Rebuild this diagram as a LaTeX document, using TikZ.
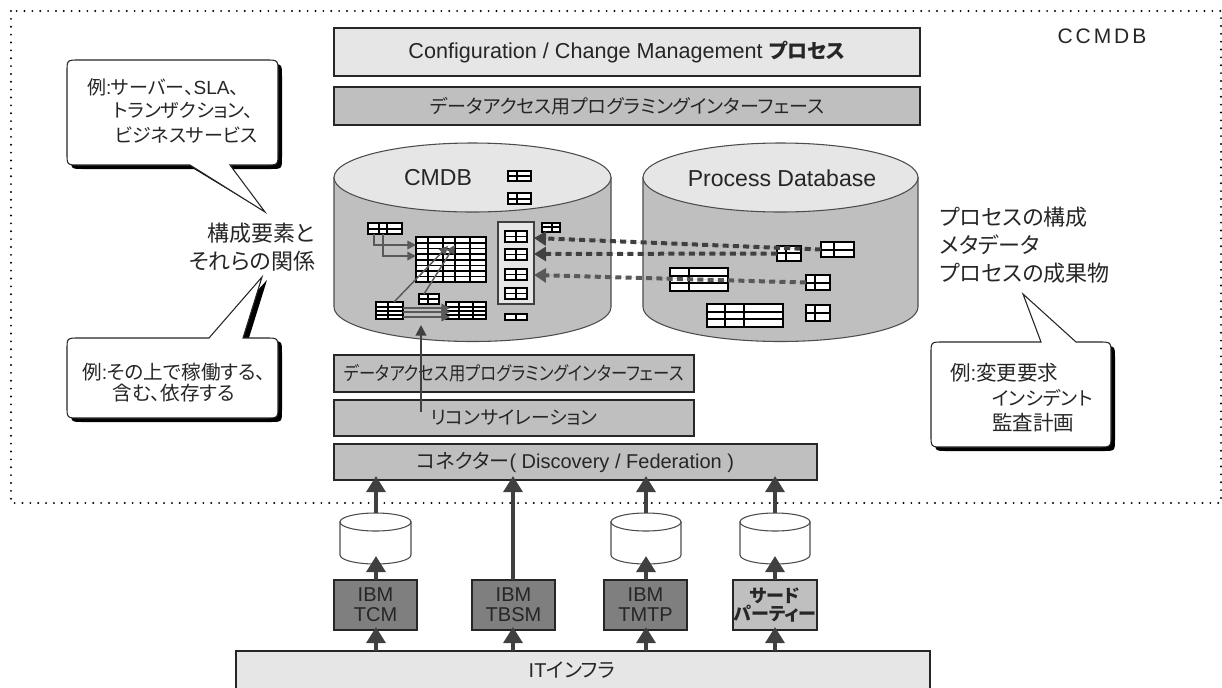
\documentclass[tikz,border=0pt]{standalone}
\usepackage{fontspec}
\usepackage{graphicx}
\usetikzlibrary{arrows.meta,calc}
\setmainfont{Liberation Sans}
\newfontfamily\cjk[RawFeature=+palt]{Noto Sans CJK JP}
\newfontfamily\lsfont[LetterSpace=14]{Liberation Sans}
\newcommand{\J}[1]{{\cjk #1}}
\newcommand{\fsd}[1]{\fontsize{#1}{#1}\selectfont}
\definecolor{txt}{HTML}{262626}
\definecolor{lg}{HTML}{E6E6E6}
\definecolor{mg}{HTML}{BFBFBF}
\definecolor{dg}{HTML}{7F7F7F}
\definecolor{ar}{HTML}{404040}
\definecolor{ag}{HTML}{595959}
\tikzset{
  boxs/.style={draw=black!85,line width=.8pt,outer sep=0pt,inner sep=0pt,text=txt,align=center},
  lbl/.style={text=txt,inner sep=0pt,outer sep=0pt},
  bigarr/.style={draw=ar,line width=3pt,-{Triangle[length=12pt,width=14pt,fill=ar]}},
  dasharr/.style={line width=3pt,dash pattern=on 4.5pt off 3.2pt,-{Triangle[length=9pt,width=10.5pt]}},
  thinarr/.style={draw=ag,line width=1.1pt,-{Triangle[length=6.5pt,width=6.5pt,fill=ag]}},
  tabs/.style={draw=black,line width=.9pt,fill=white,outer sep=0pt,inner sep=0pt},
  cyls/.style={draw=black!70,line width=.8pt},
  dots/.style={line width=1.6pt,line cap=round,dash pattern=on 0pt off 5.9pt,draw=black},
  call/.style={draw=black!85,line width=.8pt,fill=white},
  f18/.style={font=\fsd{13.5pt}},
  f20/.style={font=\fsd{15pt}},
  f19/.style={font=\fsd{14.25pt}},
  f22/.style={font=\fsd{16.5pt}},
  f23/.style={font=\fsd{17.3pt}},
}
\newcommand{\bx}[7]{%
  \pgfmathsetlengthmacro{\bw}{(#4-#2)*0.75pt}\pgfmathsetlengthmacro{\bh}{(#5-#3)*0.75pt}%
  \node[boxs,#6,anchor=north west,minimum width=\bw,minimum height=\bh] (#1) at (#2,#3) {#7};}
\newcommand{\tb}[7]{%
  \pgfmathsetlengthmacro{\bw}{(#4-#2)*0.75pt}\pgfmathsetlengthmacro{\bh}{(#5-#3)*0.75pt}%
  \node[tabs,anchor=north west,minimum width=\bw,minimum height=\bh] (#1) at (#2,#3) {};
  \foreach \c in {#6} {\draw[line width=.9pt] (\c,#3) -- (\c,#5);}
  \foreach \r in {#7} {\draw[line width=.9pt] (#2,\r) -- (#4,\r);}}
\newcommand{\cyl}[8]{%
  \pgfmathsetmacro{\cx}{(#2+#3)/2}\pgfmathsetmacro{\rx}{(#3-#2)/2}\pgfmathsetmacro{\ry}{(#5-#4)/2}%
  \pgfmathsetmacro{\cy}{(#4+#5)/2}\pgfmathsetmacro{\by}{#6+\ry}%
  \pgfmathsetmacro{\ka}{0.5523*\rx}\pgfmathsetmacro{\kb}{0.5523*\ry}%
  \pgfmathsetmacro{\lo}{#6+\kb}%
  \pgfmathsetmacro{\xa}{\cx-\ka}\pgfmathsetmacro{\xb}{\cx+\ka}%
  \pgfmathsetlengthmacro{\bw}{(#3-#2)*0.75pt}\pgfmathsetlengthmacro{\bh}{(\by-#4)*0.75pt}%
  \path[cyls,fill=#7] (#2,\cy) -- (#2,#6) .. controls (#2,\lo) and (\xa,\by) .. (\cx,\by)
     .. controls (\xb,\by) and (#3,\lo) .. (#3,#6) -- (#3,\cy) -- cycle;
  \path[cyls,fill=#8] (\cx,\cy) ellipse[x radius=\rx,y radius=\ry];
  \node[anchor=north west,minimum width=\bw,minimum height=\bh,inner sep=0pt,outer sep=0pt] (#1) at (#2,#4) {};}
\newcommand{\calltop}[9]{%
  \path[#9] ({#1+12},#2) -- (#5,#2) -- (#6,#7) -- (#8,#2) -- ({#3-12},#2) .. controls (#3,#2) .. (#3,{#2+12})
   -- (#3,{#4-12}) .. controls (#3,#4) .. ({#3-12},#4) -- ({#1+12},#4) .. controls (#1,#4) .. (#1,{#4-12})
   -- (#1,{#2+12}) .. controls (#1,#2) .. ({#1+12},#2) -- cycle;}
\newcommand{\callbot}[9]{%
  \path[#9] ({#1+12},#2) -- ({#3-12},#2) .. controls (#3,#2) .. (#3,{#2+12})
   -- (#3,{#4-12}) .. controls (#3,#4) .. ({#3-12},#4) -- (#8,#4) -- (#6,#7) -- (#5,#4) -- ({#1+12},#4) .. controls (#1,#4) .. (#1,{#4-12})
   -- (#1,{#2+12}) .. controls (#1,#2) .. ({#1+12},#2) -- cycle;}
\newcommand{\apitext}[1]{\scalebox{#1}[1]{\J{データアクセス用プログラミングインターフェース}}}
\begin{document}
\begin{tikzpicture}[x=0.75pt,y=-0.75pt]
\useasboundingbox (0,0) rectangle (1222,687);
\clip (0,0) rectangle (1222,687);
\fill[white] (0,0) rectangle (1222,687);
\draw[dots] (11,11) rectangle (1221,503);
\node[lbl,font=\fsd{15.75pt}\lsfont] (ccmdb) at (1102,36) {CCMDB};
\bx{proc}{334}{28}{920}{76}{fill=lg,font=\fsd{16.2pt}}{Configuration / Change Management \J{\fsd{15pt}\bfseries プロセス}}
\bx{api}{334}{87}{920}{125}{fill=mg,f19}{\apitext{1}}
\cyl{cmdb}{334}{611}{143}{212}{307}{mg}{lg}
\cyl{pdb}{643}{918}{143}{212}{307}{mg}{lg}
\node[lbl,f23] (cmdbt) at (438,178) {CMDB};
\node[lbl,f23] (pdbt) at (782,178) {Process Database};
\tb{t1}{508}{171}{531}{181}{517}{176}
\tb{t2}{508}{193}{531}{204}{517}{199}
\tb{tl}{368}{223}{402}{234}{379,387}{229}
\tb{tm}{416}{237}{486}{282}{428,443,455,470}{243,248.5,254,260,265.5,271,276.5}
\tb{bl}{376}{302}{403}{319}{388}{307,311,315}
\tb{sm}{419}{294}{439}{304}{428}{299}
\tb{br}{446}{302}{486}{319}{459,473}{307,311,315}
\bx{panel}{498}{222}{534}{304}{fill=lg,draw=black!75}{}
\tb{p1}{505}{231}{527}{242}{516}{236.5}
\tb{p2}{505}{249}{527}{260}{516}{254.5}
\tb{p3}{505}{269}{527}{280}{516}{274.5}
\tb{p4}{505}{288}{527}{299}{516}{293.5}
\tb{ps}{542}{223}{560}{232}{552}{227}
\tb{pb}{505}{314}{527}{320}{516}{}
\draw[line width=1.6pt] (pb.south west) -- (pb.south east);
\coordinate (e1) at (374,234); \coordinate (e1b) at (416,245);
\coordinate (e2) at (383,234); \coordinate (e2b) at (416,256);
\draw[thinarr] (e1) |- (e1b);
\draw[thinarr] (e2) |- (e2b);
\coordinate (d1) at (394,302); \coordinate (d1b) at (448,246);
\coordinate (d2) at (424,294); \coordinate (d2b) at (455,245);
\draw[thinarr] (d1) -- (d1b);
\draw[thinarr] (d2) -- (d2b);
\coordinate (h1) at (403,308); \coordinate (h1b) at (450,308);
\coordinate (h2) at (403,312); \coordinate (h2b) at (450,312);
\coordinate (h3) at (403,317); \coordinate (h3b) at (450,317);
\draw[thinarr] (h1) -- (h1b); \draw[thinarr] (h2) -- (h2b); \draw[thinarr] (h3) -- (h3b);
\tb{ta}{821}{242}{854}{257}{834}{250}
\tb{tb}{777}{246}{801}{261}{786}{253}
\tb{tc}{670}{268}{728}{291}{689}{276,283}
\tb{td}{806}{275}{830}{290}{815}{283}
\tb{te}{707}{304}{783}{327}{725,744}{312,319}
\tb{tf}{806}{305}{830}{321}{815}{313}
\coordinate (q1) at (534,238); \coordinate (q2) at (534,254); \coordinate (q3) at (534,275);
\draw[dasharr,draw=ar,fill=ar] (ta.west) -- (q1);
\draw[dasharr,draw=ar,fill=ar] (tb.west) -- (q2);
\draw[dasharr,draw=ag,fill=ag] (td.west) -- (q3);
\node[lbl,f22,anchor=east] (l1) at (315,233) {\J{構成要素と}};
\node[lbl,f22,anchor=east] (l2) at (315,261) {\J{それらの関係}};
\node[lbl,f22,anchor=west] (r1) at (940,217) {\J{プロセスの構成}};
\node[lbl,f22,anchor=west] (r2) at (940,245) {\J{メタデータ}};
\node[lbl,f22,anchor=west] (r3) at (940,273) {\J{プロセスの成果物}};
\callbot{71}{64}{282}{169}{194}{265}{212}{232}{fill=black}
\callbot{67}{60}{278}{165}{190}{265}{212}{230}{call}
\node[lbl,f19,anchor=west] (c11) at (87,87) {\J{例}:\J{サーバー、}SLA\J{、}};
\node[lbl,f19,anchor=west] (c12) at (113,110) {\J{トランザクション、}};
\node[lbl,f19,anchor=west] (c13) at (115,135) {\J{ビジネスサービス}};
\calltop{71}{341}{282}{422}{212}{267}{280}{248}{fill=black}
\calltop{67}{338}{278}{418}{209}{262}{277}{243}{call}
\node[lbl,font=\fsd{14.7pt}] (c21) at (174,372) {\J{例}:\J{その上で稼働する、}};
\node[lbl,font=\fsd{14.7pt}] (c22) at (174,393) {\J{含む、依存する}};
\calltop{935}{346}{1115}{451}{1045}{1023}{294}{1080}{fill=black}
\calltop{931}{342}{1111}{447}{1041}{1023}{294}{1076}{call}
\node[lbl,font=\fsd{15.4pt},anchor=west] (c31) at (950,373) {\J{例}:\J{変更要求}};
\node[lbl,f19,anchor=west] (c32) at (992,398) {\J{インシデント}};
\node[lbl,font=\fsd{15.4pt},anchor=west] (c33) at (992,423) {\J{監査計画}};
\bx{api2}{334}{355}{694}{392}{fill=mg,f19}{\apitext{.86}}
\bx{rec}{334}{400}{694}{436}{fill=mg,font=\fsd{14.1pt}}{\J{リコンサイレーション}}
\bx{conn}{334}{444}{817}{480}{fill=mg,f20}{\J{コネクター}( Discovery / Federation )}
\coordinate (up1) at (421,412); \coordinate (up2) at (421,325);
\draw[draw=ar,line width=1.4pt,-{Triangle[length=8pt,width=8pt,fill=ar]}] (up1) -- (up2);
\cyl{c1}{340}{411}{513}{531}{555}{white}{white}
\cyl{c3}{611}{681}{513}{531}{555}{white}{white}
\cyl{c4}{740}{810}{513}{531}{555}{white}{white}
\bx{tcm}{334}{580}{417}{630}{fill=dg,f20}{IBM\\TCM}
\bx{tbsm}{472}{580}{555}{630}{fill=dg,f20}{IBM\\TBSM}
\bx{tmtp}{604}{580}{687}{630}{fill=dg,f20}{IBM\\TMTP}
\bx{third}{733}{580}{817}{630}{fill=mg,f18}{\J{\bfseries サード}\\\J{\bfseries パーティー}}
\bx{it}{236}{651}{930}{695}{fill=lg}{}
\node[lbl,f20] (itl) at (572,670) {IT\J{インフラ}};
\coordinate (u1) at (376,476); \coordinate (u2) at (513,476); \coordinate (u3) at (646,476); \coordinate (u4) at (775,476);
\coordinate (k1) at (376,556); \coordinate (k3) at (646,556); \coordinate (k4) at (775,556);
\coordinate (b1) at (376,627); \coordinate (b2) at (513,627); \coordinate (b3) at (646,627); \coordinate (b4) at (775,627);
\coordinate (s1) at (376,513); \coordinate (s3) at (646,513); \coordinate (s4) at (775,513);
\coordinate (f1) at (376,580); \coordinate (f2) at (513,580); \coordinate (f3) at (646,580); \coordinate (f4) at (775,580);
\coordinate (g1) at (376,651); \coordinate (g2) at (513,651); \coordinate (g3) at (646,651); \coordinate (g4) at (775,651);
\draw[bigarr] (s1) -- (u1); \draw[bigarr] (f2) -- (u2); \draw[bigarr] (s3) -- (u3); \draw[bigarr] (s4) -- (u4);
\draw[bigarr] (f1) -- (k1); \draw[bigarr] (f3) -- (k3); \draw[bigarr] (f4) -- (k4);
\draw[bigarr] (g1) -- (b1); \draw[bigarr] (g2) -- (b2); \draw[bigarr] (g3) -- (b3); \draw[bigarr] (g4) -- (b4);
\end{tikzpicture}
\end{document}
